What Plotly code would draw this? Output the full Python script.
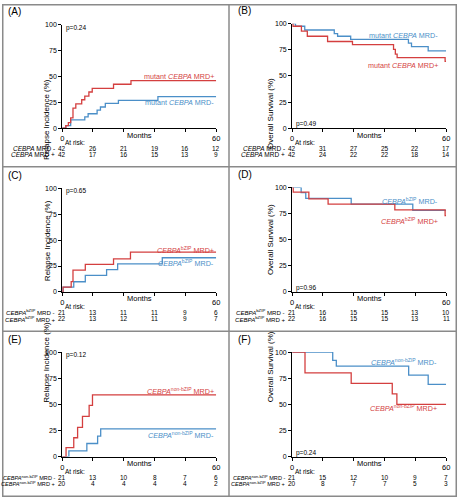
import plotly.graph_objects as go

# ---------------- data ----------------
months_ticks = [0, 12, 24, 36, 48, 60]

A_neg_t = [0, 1.4, 3.3, 8.8, 10.1, 13.6, 14.9, 16.8, 21.9, 37.3, 60]
A_neg_v = [0, 2.5, 8, 11, 14, 17.5, 20.5, 24, 27, 30.5, 30.5]
A_pos_t = [0, 1.4, 2.4, 3.3, 4.2, 5.3, 7.6, 8.8, 10.4, 11.7, 20, 26.8, 60]
A_pos_v = [0, 2.5, 5.5, 10, 19.5, 23.5, 27.5, 31, 35, 38.5, 42.5, 46, 46]

B_neg_t = [0, 1.3, 4.9, 16.4, 17.7, 22.8, 45.3, 46.5, 53, 60]
B_neg_v = [100, 97.6, 94, 90.5, 88, 85, 81.5, 78, 74, 74]
B_pos_t = [0, 0.3, 3.6, 5.9, 13.8, 23.5, 39.5, 40.2, 40.9, 59.6, 60]
B_pos_v = [100, 97.6, 93, 88, 83, 80, 75.5, 71, 67.5, 64, 64]

C_neg_t = [0, 0.3, 4.5, 9, 17.3, 21.6, 39, 60]
C_neg_v = [0, 4.7, 9.8, 16, 21.5, 27, 33, 33]
C_pos_t = [0, 0.3, 3.5, 4.2, 9, 20, 26.6, 60]
C_pos_v = [0, 4.7, 10, 21, 26.5, 32, 38.5, 38.5]

D_neg_t = [0, 3.5, 5.3, 23, 47, 60]
D_neg_v = [100, 95, 89.5, 84, 78, 78]
D_pos_t = [0, 0.4, 6.5, 14, 40, 59.6, 60]
D_pos_v = [100, 95.5, 89, 84, 78.5, 73, 73]

E_neg_t = [0, 2.6, 9.6, 13.8, 15, 60]
E_neg_v = [0, 5.5, 12.5, 19.5, 26.5, 26.5]
E_pos_t = [0, 1.5, 4.5, 6, 7.9, 10.5, 11.8, 60]
E_pos_v = [0, 8.5, 18, 28, 38.5, 49, 59, 59]

F_neg_t = [0, 15.8, 17.2, 45.4, 53, 60]
F_neg_v = [100, 92, 86.5, 78, 69, 69]
F_pos_t = [0, 5, 23, 39, 40.8, 60]
F_pos_v = [100, 80, 70, 60, 50, 50]

A_risk_neg = [42, 26, 21, 19, 16, 12]
A_risk_pos = [42, 17, 16, 15, 13, 9]
B_risk_neg = [42, 31, 27, 25, 22, 17]
B_risk_pos = [42, 24, 22, 22, 18, 14]
C_risk_neg = [21, 13, 11, 11, 9, 6]
C_risk_pos = [22, 13, 12, 11, 9, 7]
D_risk_neg = [21, 16, 15, 15, 13, 10]
D_risk_pos = [22, 16, 15, 15, 13, 11]
E_risk_neg = [21, 13, 10, 8, 7, 6]
E_risk_pos = [20, 4, 4, 4, 4, 2]
F_risk_neg = [21, 15, 12, 10, 9, 7]
F_risk_pos = [20, 8, 7, 7, 5, 3]

p_values = ["p=0.24", "p=0.49", "p=0.65", "p=0.96", "p=0.12", "p=0.24"]

# ---------------- styling ----------------
W, H = 461, 500
RED = "#d43f3f"
BLUE = "#4b8fc8"
FONT = "Liberation Sans, Arial, sans-serif"


def px(x):
    return x / W


def py(y):
    return 1 - y / H


panels = [
    dict(key="A", x0=61, x1=217, yt=21, yb=126, kind="RI", pv_top=True, risk_y=(140, 146.5, 153)),
    dict(key="B", x0=294, x1=450, yt=20, yb=126, kind="OS", pv_top=False, risk_y=(140, 146.5, 152.5)),
    dict(key="C", x0=61, x1=217, yt=187, yb=292, kind="RI", pv_top=True, risk_y=(307, 312.5, 319)),
    dict(key="D", x0=294, x1=450, yt=186, yb=292, kind="OS", pv_top=False, risk_y=(307, 312.5, 319)),
    dict(key="E", x0=61, x1=217, yt=353, yb=459, kind="RI", pv_top=True, risk_y=(474, 480, 486.5)),
    dict(key="F", x0=294, x1=450, yt=353, yb=459, kind="OS", pv_top=False, risk_y=(474, 480, 486.5)),
]

series = {
    "A": (A_neg_t, A_neg_v, A_pos_t, A_pos_v, A_risk_neg, A_risk_pos),
    "B": (B_neg_t, B_neg_v, B_pos_t, B_pos_v, B_risk_neg, B_risk_pos),
    "C": (C_neg_t, C_neg_v, C_pos_t, C_pos_v, C_risk_neg, C_risk_pos),
    "D": (D_neg_t, D_neg_v, D_pos_t, D_pos_v, D_risk_neg, D_risk_pos),
    "E": (E_neg_t, E_neg_v, E_pos_t, E_pos_v, E_risk_neg, E_risk_pos),
    "F": (F_neg_t, F_neg_v, F_pos_t, F_pos_v, F_risk_neg, F_risk_pos),
}

sup = {"A": None, "B": None, "C": "bZIP", "D": "bZIP", "E": "non-bZIP", "F": "non-bZIP"}

label_pos = {
    "A": (100, 74, 217),
    "B": (32, 62, 444),
    "C": (263, 249, 217),
    "D": (200, 220, 444),
    "E": (437, 393, 217),
    "F": (363, 410, 443),
}

fig = go.Figure()
annotations = []
shapes = []
layout = {}

for i, p in enumerate(panels):
    n = "" if i == 0 else str(i + 1)
    xa, ya = "x" + n, "y" + n
    k = p["key"]
    nt, nv, pt, pv, rn, rp = series[k]
    fig.add_trace(go.Scatter(x=nt, y=nv, mode="lines", line=dict(color=BLUE, width=1.3, shape="hv"),
                             xaxis=xa, yaxis=ya, showlegend=False, cliponaxis=False, hoverinfo="skip"))
    fig.add_trace(go.Scatter(x=pt, y=pv, mode="lines", line=dict(color=RED, width=1.3, shape="hv"),
                             xaxis=xa, yaxis=ya, showlegend=False, cliponaxis=False, hoverinfo="skip"))

    layout["xaxis" + n] = dict(
        domain=[px(p["x0"]), px(p["x1"])], anchor=ya, range=[0, 60],
        tickvals=[0, 60], ticktext=["0", "60"],
        minor=dict(tickvals=months_ticks, ticks="outside", ticklen=3, tickwidth=1,
                   tickcolor="black", showgrid=False),
        showline=True, linecolor="black", linewidth=1, ticks="outside", ticklen=3,
        tickwidth=1, tickcolor="black", showgrid=False, zeroline=False,
        tickfont=dict(size=7.5, family=FONT, color="black"), fixedrange=True)
    layout["yaxis" + n] = dict(
        domain=[py(p["yb"]), py(p["yt"])], anchor=xa, range=[0, 100],
        tickvals=[0, 25, 50, 75, 100],
        showline=True, linecolor="black", linewidth=1, ticks="outside", ticklen=3,
        tickwidth=1, tickcolor="black", showgrid=False, zeroline=False,
        tickfont=dict(size=7, family=FONT, color="black"), fixedrange=True)

    annotations.append(dict(x=px(p["x0"] - 57), y=py(p["yt"] - 13), xref="paper", yref="paper",
                            text="(" + k + ")", showarrow=False, xanchor="left", yanchor="middle",
                            font=dict(size=10, family=FONT, color="black")))
    ytitle = "Relapse Incidence (%)" if p["kind"] == "RI" else "Overall Survival (%)"
    annotations.append(dict(x=px(p["x0"] - 22), y=py((p["yt"] + p["yb"]) / 2), xref="paper", yref="paper",
                            text=ytitle, textangle=-90, showarrow=False,
                            font=dict(size=8, family=FONT, color="black")))
    annotations.append(dict(x=30, y=py(p["yb"] + 7), xref=xa, yref="paper", text="Months",
                            showarrow=False, xanchor="center", yanchor="middle",
                            font=dict(size=7.5, family=FONT, color="black")))
    pyv = p["yt"] + 3 if p["pv_top"] else p["yb"] - 4
    annotations.append(dict(x=px(p["x0"] + 2), y=py(pyv), xref="paper", yref="paper",
                            text=p_values[i], showarrow=False, xanchor="left", yanchor="middle",
                            font=dict(size=6.5, family=FONT, color="black")))

    s = sup[k]
    if s is None:
        base = "mutant <i>CEBPA</i> MRD"
        rbase = "<i>CEBPA</i> MRD "
    else:
        base = "<i>CEBPA</i><sup>" + s + "</sup> MRD"
        rbase = "<i>CEBPA</i><sup>" + s + "</sup> MRD "
    ny, pyl, rx = label_pos[k]
    annotations.append(dict(x=px(rx), y=py(ny), xref="paper", yref="paper", text=base + "-",
                            showarrow=False, xanchor="right", yanchor="middle",
                            font=dict(size=7.2, family=FONT, color=BLUE)))
    annotations.append(dict(x=px(rx), y=py(pyl), xref="paper", yref="paper", text=base + "+",
                            showarrow=False, xanchor="right", yanchor="middle",
                            font=dict(size=7.2, family=FONT, color=RED)))

    ry0, ry1, ry2 = p["risk_y"]
    rsize = {None: 6.5, "bZIP": 6.1, "non-bZIP": 5.6}[s]
    annotations.append(dict(x=px(p["x0"] + 1), y=py(ry0), xref="paper", yref="paper", text="At risk:",
                            showarrow=False, xanchor="left", yanchor="middle",
                            font=dict(size=6.5, family=FONT, color="black")))
    annotations.append(dict(x=px(p["x0"] - 5), y=py(ry1), xref="paper", yref="paper", text=rbase + "-",
                            showarrow=False, xanchor="right", yanchor="middle",
                            font=dict(size=rsize, family=FONT, color="black")))
    annotations.append(dict(x=px(p["x0"] - 5), y=py(ry2), xref="paper", yref="paper", text=rbase + "+",
                            showarrow=False, xanchor="right", yanchor="middle",
                            font=dict(size=rsize, family=FONT, color="black")))
    for t, a, b in zip(months_ticks, rn, rp):
        annotations.append(dict(x=t, y=py(ry1), xref=xa, yref="paper", text=str(a),
                                showarrow=False, xanchor="center", yanchor="middle",
                                font=dict(size=6.5, family=FONT, color="black")))
        annotations.append(dict(x=t, y=py(ry2), xref=xa, yref="paper", text=str(b),
                                showarrow=False, xanchor="center", yanchor="middle",
                                font=dict(size=6.5, family=FONT, color="black")))

GRAY = "#8a8a8a"
shapes.append(dict(type="rect", xref="paper", yref="paper", x0=px(0.75), x1=px(460.25), y0=py(499.25), y1=py(0.75),
                   line=dict(color=GRAY, width=1.5)))
shapes.append(dict(type="line", xref="paper", yref="paper", x0=px(230), x1=px(230), y0=0, y1=1,
                   line=dict(color=GRAY, width=1.5)))
for yy in (165, 332):
    shapes.append(dict(type="line", xref="paper", yref="paper", x0=0, x1=1, y0=py(yy), y1=py(yy),
                       line=dict(color=GRAY, width=1.5)))

fig.update_layout(
    width=W, height=H, margin=dict(l=0, r=0, t=0, b=0),
    paper_bgcolor="white", plot_bgcolor="white",
    font=dict(family=FONT, size=8, color="black"),
    annotations=annotations, shapes=shapes, showlegend=False,
    **layout,
)

fig.write_html("out.html", config={"displayModeBar": False},
               post_script="document.body.style.margin='0';document.body.style.overflow='hidden';")
